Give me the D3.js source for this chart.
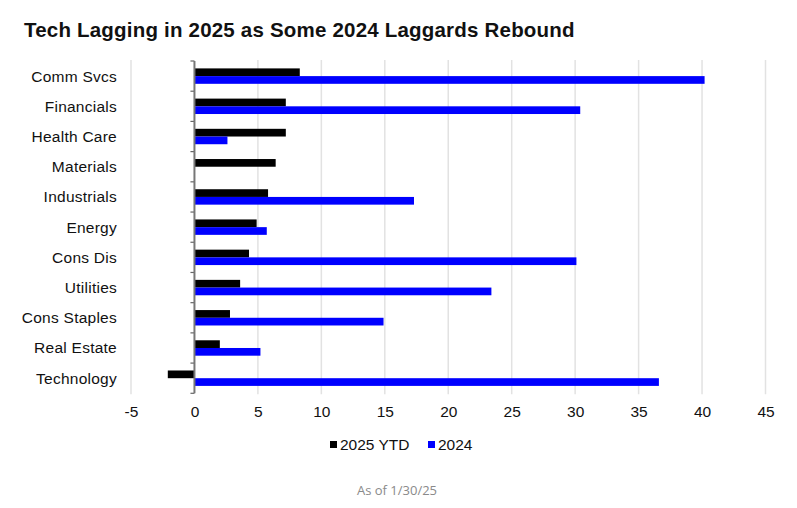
<!DOCTYPE html>
<html>
<head>
<meta charset="utf-8">
<script src="https://cdn.jsdelivr.net/npm/d3@7"></script>
<style>
  html, body { margin: 0; padding: 0; background: #fff; }
  svg { display: block; }
</style>
</head>
<body>
<svg id="chart" width="797" height="508"></svg>
<script>
const categories = ["Comm Svcs", "Financials", "Health Care", "Materials", "Industrials", "Energy", "Cons Dis", "Utilities", "Cons Staples", "Real Estate", "Technology"];
const seriesNames = ["2025 YTD", "2024"];
const ytd2025 = [8.3, 7.2, 7.2, 6.4, 5.8, 4.9, 4.3, 3.6, 2.8, 2.0, -2.1];
const full2024 = [40.2, 30.4, 2.6, 0.0, 17.3, 5.7, 30.1, 23.4, 14.9, 5.2, 36.6];
const xTicks = [-5, 0, 5, 10, 15, 20, 25, 30, 35, 40, 45];
const colors = ["#000000", "#0000ff"];

const svg = d3.select("#chart");
const plot = { left: 131, right: 765.5, top: 61, bottom: 393.3 };

const x = d3.scaleLinear().domain([-5, 45]).range([plot.left, plot.right]);
const y = d3.scaleBand().domain(categories).range([plot.top, plot.bottom]).padding(0);
const y1 = d3.scaleBand().domain(seriesNames).range([0, y.bandwidth()]).paddingInner(0).paddingOuter(0.96);

// Title
svg.append("text")
  .attr("x", 24).attr("y", 37)
  .attr("font-family", "Liberation Sans, Arial, sans-serif")
  .attr("font-weight", "bold")
  .attr("font-size", 20.5)
  .attr("letter-spacing", 0.2)
  .attr("fill", "#111")
  .text("Tech Lagging in 2025 as Some 2024 Laggards Rebound");

// Gridlines
svg.append("g")
  .selectAll("line")
  .data(xTicks.filter(d => d !== 0))
  .join("line")
  .attr("x1", d => x(d)).attr("x2", d => x(d))
  .attr("y1", plot.top - 1).attr("y2", plot.bottom + 1)
  .attr("stroke", "#e2e2e2")
  .attr("stroke-width", 1.5);

// Bars
const rows = categories.map((c, i) => ({ cat: c, vals: [ytd2025[i], full2024[i]] }));
const g = svg.append("g");
rows.forEach(r => {
  r.vals.forEach((v, j) => {
    g.append("rect")
      .attr("x", x(Math.min(0, v)))
      .attr("width", Math.abs(x(v) - x(0)))
      .attr("y", y(r.cat) + y1(seriesNames[j]))
      .attr("height", y1.bandwidth())
      .attr("fill", colors[j]);
  });
});

// Category axis at zero
const ya = svg.append("g").attr("transform", `translate(${x(0)},0)`);
const bounds = categories.map(c => y(c)).concat([plot.bottom]);
ya.selectAll("line.bt").data(bounds).join("line")
  .attr("class", "bt")
  .attr("x1", -4).attr("x2", 0)
  .attr("y1", d => d).attr("y2", d => d)
  .attr("stroke", "#666").attr("stroke-width", 1.2);
ya.append("line")
  .attr("x1", 0).attr("x2", 0)
  .attr("y1", plot.top).attr("y2", plot.bottom)
  .attr("stroke", "#777").attr("stroke-width", 2);

// Category labels
svg.append("g")
  .selectAll("text")
  .data(categories)
  .join("text")
  .attr("x", 117)
  .attr("y", d => y(d) + y.bandwidth() / 2)
  .attr("dy", "0.35em")
  .attr("text-anchor", "end")
  .attr("font-family", "Liberation Sans, Arial, sans-serif")
  .attr("font-size", 15.5)
  .attr("letter-spacing", 0.25)
  .attr("fill", "#111")
  .text(d => d);

// Value axis labels
const xAxis = d3.axisBottom(x).tickValues(xTicks).tickSize(0).tickPadding(0).tickFormat(d => String(d));
const xa = svg.append("g").attr("transform", `translate(0,${plot.bottom})`).call(xAxis);
xa.select(".domain").remove();
xa.selectAll("text")
  .attr("y", 18.5)
  .attr("dy", "0.35em")
  .attr("font-family", "Liberation Sans, Arial, sans-serif")
  .attr("font-size", 15.5)
  .attr("fill", "#111");

// Legend
const legend = svg.append("g").attr("font-family", "Liberation Sans, Arial, sans-serif").attr("font-size", 15.5);
const legendItems = [{ name: seriesNames[0], x: 330 }, { name: seriesNames[1], x: 428 }];
legendItems.forEach((d, i) => {
  legend.append("rect").attr("x", d.x).attr("y", 441).attr("width", 7).attr("height", 7).attr("fill", colors[i]);
  legend.append("text").attr("x", d.x + 10).attr("y", 444.5).attr("dy", "0.35em").attr("fill", "#111").text(d.name);
});

// Footnote
svg.append("text")
  .attr("x", 397).attr("y", 490)
  .attr("dy", "0.35em")
  .attr("text-anchor", "middle")
  .attr("font-family", "Open Sans, sans-serif")
  .attr("font-size", 13)
  .attr("fill", "#8a8a8a")
  .text("As of 1/30/25");
</script>
</body>
</html>
